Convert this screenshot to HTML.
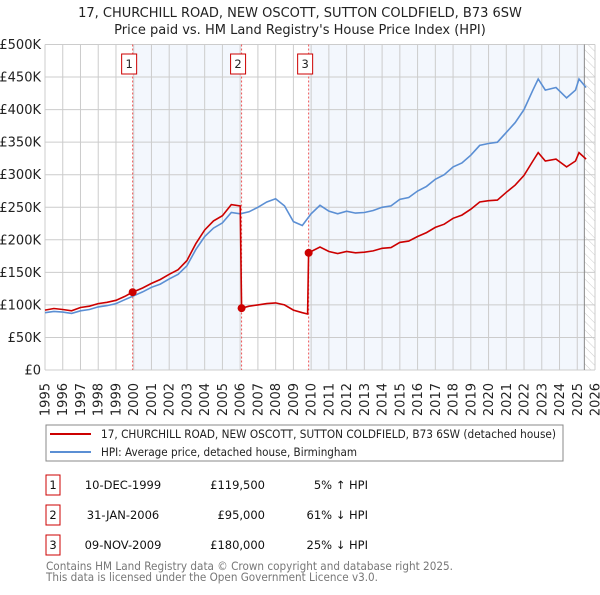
<!DOCTYPE html>
<html><head><meta charset="utf-8"><style>
body{margin:0;background:#fff;width:600px;height:590px;overflow:hidden;font-family:"Liberation Sans","DejaVu Sans",sans-serif;}
svg text{font-family:"DejaVu Sans","Liberation Sans",sans-serif;}
</style></head><body>
<svg id="c" width="600" height="590" xmlns="http://www.w3.org/2000/svg">
<defs><pattern id="hatch" width="6" height="6" patternUnits="userSpaceOnUse" patternTransform="rotate(-45)"><line x1="0" y1="0" x2="0" y2="6" stroke="#ccc" stroke-width="1"/></pattern></defs>
<text x="300" y="17" text-anchor="middle" font-size="13" fill="#222">17, CHURCHILL ROAD, NEW OSCOTT, SUTTON COLDFIELD, B73 6SW</text>
<text x="300" y="34" text-anchor="middle" font-size="13" fill="#222">Price paid vs. HM Land Registry's House Price Index (HPI)</text>
<g id="plot"></g>
<rect x="46" y="425" width="517" height="36" fill="#fff" stroke="#888"/>
<line x1="50" y1="434" x2="91" y2="434" stroke="#cc0000" stroke-width="2"/>
<text x="101" y="438" font-size="11.5" fill="#222" textLength="455" lengthAdjust="spacingAndGlyphs">17, CHURCHILL ROAD, NEW OSCOTT, SUTTON COLDFIELD, B73 6SW (detached house)</text>
<line x1="50" y1="452" x2="91" y2="452" stroke="#5b8fd4" stroke-width="2"/>
<text x="101" y="456" font-size="11.5" fill="#222" textLength="256" lengthAdjust="spacingAndGlyphs">HPI: Average price, detached house, Birmingham</text>
<g id="tbl" font-size="11.5" fill="#111"></g>
<text x="46" y="570" font-size="11.5" fill="#777" textLength="407" lengthAdjust="spacingAndGlyphs">Contains HM Land Registry data © Crown copyright and database right 2025.</text>
<text x="46" y="581" font-size="11.5" fill="#777" textLength="332" lengthAdjust="spacingAndGlyphs">This data is licensed under the Open Government Licence v3.0.</text>
</svg>
<script>
const hpiYears=[1995.0,1995.5,1996.0,1996.5,1997.0,1997.5,1998.0,1998.5,1999.0,1999.5,2000.0,2000.5,2001.0,2001.5,2002.0,2002.5,2003.0,2003.5,2004.0,2004.5,2005.0,2005.5,2006.0,2006.5,2007.0,2007.5,2008.0,2008.5,2009.0,2009.5,2010.0,2010.5,2011.0,2011.5,2012.0,2012.5,2013.0,2013.5,2014.0,2014.5,2015.0,2015.5,2016.0,2016.5,2017.0,2017.5,2018.0,2018.5,2019.0,2019.5,2020.0,2020.5,2021.0,2021.5,2022.0,2022.5,2022.8,2023.2,2023.8,2024.4,2024.9,2025.1,2025.5];
const hpiValues=[88,90,89,87,91,93,97,99,102,108,114,120,127,132,140,147,160,185,205,218,226,242,240,243,250,258,263,252,228,222,240,253,244,240,244,241,242,245,250,252,262,265,275,282,293,300,312,318,330,345,348,350,365,380,400,430,447,430,434,418,430,447,434];
const priceYears=[1995.0,1995.5,1996.0,1996.5,1997.0,1997.5,1998.0,1998.5,1999.0,1999.5,1999.94,2000.5,2001.0,2001.5,2002.0,2002.5,2003.0,2003.5,2004.0,2004.5,2005.0,2005.5,2006.0,2006.08,2006.5,2007.0,2007.5,2008.0,2008.5,2009.0,2009.5,2009.8,2009.86,2010.5,2011.0,2011.5,2012.0,2012.5,2013.0,2013.5,2014.0,2014.5,2015.0,2015.5,2016.0,2016.5,2017.0,2017.5,2018.0,2018.5,2019.0,2019.5,2020.0,2020.5,2021.0,2021.5,2022.0,2022.5,2022.8,2023.2,2023.8,2024.4,2024.9,2025.1,2025.5];
const priceValues=[92,94.5,93,91,96,98,102,104,107,113,119.5,126,133,139,147,154,168,194,215,229,237,254,252,95,98,100,102,103,100,92,88,86,180,189,182,179,182,180,181,183,187,188,196,198,205,211,219,224,233,238,247,258,260,261,273,284,299,321,334,321,324,312,321,334,324];
const saleYears=[1999.94,2006.08,2009.86];
const saleValues=[119.5,95,180];
const saleLabels=["1","2","3"];
const saleDates=["10-DEC-1999","31-JAN-2006","09-NOV-2009"];
const salePrices=["£119,500","£95,000","£180,000"];
const saleDiffs=["5% ↑ HPI","61% ↓ HPI","25% ↓ HPI"];
const yTicks=[0,50,100,150,200,250,300,350,400,450,500];
const yTickLabels=["£0","£50K","£100K","£150K","£200K","£250K","£300K","£350K","£400K","£450K","£500K"];
const xTicks=[1995,1996,1997,1998,1999,2000,2001,2002,2003,2004,2005,2006,2007,2008,2009,2010,2011,2012,2013,2014,2015,2016,2017,2018,2019,2020,2021,2022,2023,2024,2025,2026];

const L=45,R=595,T=44.5,B=370,X0=1995,X1=2026,YMAX=500,DATAEND=2025.4;
const sx=v=>L+(v-X0)/(X1-X0)*(R-L);
const sy=v=>B-v/YMAX*(B-T);
const NS="http://www.w3.org/2000/svg";
const g=document.getElementById('plot');
function mk(tag,attrs,parent){const e=document.createElementNS(NS,tag);for(const k in attrs)e.setAttribute(k,attrs[k]);(parent||g).appendChild(e);return e;}

let r=mk('rect',{x:L,y:T,width:R-L,height:B-T,fill:'#fff'});


r=mk('rect',{x:sx(saleYears[0]),y:T,width:sx(saleYears[1])-sx(saleYears[0]),height:B-T,fill:'#eef3fc',opacity:0.7});


r=mk('rect',{x:sx(saleYears[2]),y:T,width:sx(DATAEND)-sx(saleYears[2]),height:B-T,fill:'#eef3fc',opacity:0.7});


r=mk('rect',{x:sx(DATAEND),y:T,width:R-sx(DATAEND),height:B-T,fill:'url(#hatch)'});



yTicks.forEach((v,i)=>{
 const l=mk('line',{x1:L,x2:R,y1:sy(v),y2:sy(v),stroke:'#ccc','stroke-width':1});
 
 
 const t=mk('text',{x:L-4,y:sy(v)+4.5,'text-anchor':'end','font-size':'13',fill:'#222'});
 t.textContent=yTickLabels[i];
 
 
});
xTicks.forEach(v=>{
 const l=mk('line',{x1:sx(v),x2:sx(v),y1:T,y2:B,stroke:'#ccc','stroke-width':1});
 
 
 const t=mk('text',{x:0,y:0,'text-anchor':'end','font-size':'13',fill:'#222',transform:`translate(${sx(v)+4.5},${B+13}) rotate(-90)`});
 t.textContent=v;
 
 
});
r=mk('line',{x1:sx(DATAEND),x2:sx(DATAEND),y1:T,y2:B,stroke:'#888','stroke-width':1});



saleYears.forEach((yr,i)=>{
 const l=mk('line',{x1:sx(yr),x2:sx(yr),y1:T,y2:B,stroke:'#e55','stroke-width':1,'stroke-dasharray':'2,2'});
 
 
 const b=mk('rect',{x:sx(yr)-11,y:54,width:15,height:20,fill:'#fff',stroke:'#cc0000'});
 
 
 const t=mk('text',{x:sx(yr)-3.5,y:68,'text-anchor':'middle','font-size':'11.5',fill:'#222'});
 t.textContent=saleLabels[i];
 
 
});

const path=(xs,vs)=>xs.map((x,i)=>(i?'L':'M')+sx(x).toFixed(1)+','+sy(vs[i]).toFixed(1)).join('');
let p=mk('path',{d:path(hpiYears,hpiValues),fill:'none',stroke:'#5b8fd4','stroke-width':1.6});


p=mk('path',{d:path(priceYears,priceValues),fill:'none',stroke:'#cc0000','stroke-width':1.6});


saleYears.forEach((yr,i)=>{
 const c=mk('circle',{cx:sx(yr),cy:sy(saleValues[i]),r:4,fill:'#cc0000'});
 
 
});

const tb=document.getElementById('tbl');
saleLabels.forEach((lab,i)=>{
 const y0=475+i*30;
 const b=mk('rect',{x:46,y:y0,width:14,height:20,fill:'#fff',stroke:'#cc0000'},tb);
 
 
 const cells=[[53,'middle',lab],[123,'middle',saleDates[i]],[265,'end',salePrices[i]],[368,'end',saleDiffs[i]]];
 cells.forEach(([x,a,s],j)=>{
  const t=mk('text',{x:x,y:y0+14,'text-anchor':a},tb);
  t.textContent=s;
  
  
 });
});
</script>
</body></html>
